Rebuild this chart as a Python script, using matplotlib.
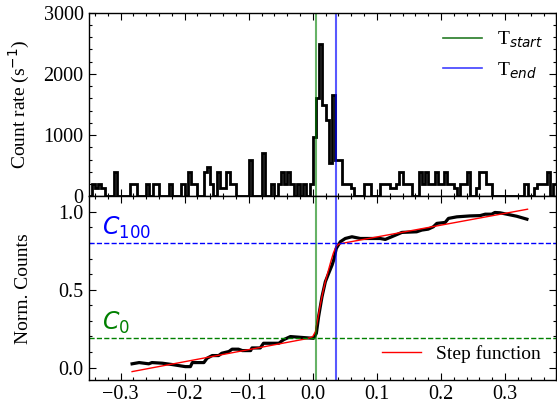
import numpy as np
import matplotlib
matplotlib.use('Agg')
import matplotlib.pyplot as plt
from matplotlib.lines import Line2D
from matplotlib.ticker import MultipleLocator

plt.rcParams['font.family'] = 'serif'
plt.rcParams['font.serif'] = ['Liberation Serif', 'DejaVu Serif']
plt.rcParams['mathtext.fontset'] = 'dejavusans'

# ---- data ----
bin_start = -0.35
bin_width = 0.005
rate = [0, 200, 130, 200, 130, 0, 0, 0, 400, 0,
        0, 0, 0, 200, 200, 0, 0, 0, 200, 0,
        200, 200, 0, 0, 0, 200, 0, 0, 0, 200,
        0, 400, 200, 200, 0, 0, 400, 480, 200, 0,
        400, 130, 130, 400, 200, 200, 0, 0, 0, 0,
        600, 0, 0, 0, 700, 0, 0, 200, 0, 200,
        400, 200, 400, 200, 0, 200, 0, 200, 0, 200,
        970, 1600, 2490, 1490, 1245, 546, 1656, 590, 590, 200,
        200, 200, 130, 0, 0, 0, 200, 200, 0, 0,
        0, 200, 200, 200, 130, 130, 200, 400, 200, 200,
        200, 0, 0, 400, 200, 400, 200, 200, 400, 200,
        200, 400, 200, 200, 130, 0, 200, 200, 400, 0,
        0, 130, 400, 400, 200, 200, 0, 0, 0, 0,
        0, 0, 0, 0, 0, 0, 200, 0, 0, 130,
        200, 200, 200, 400, 0, 200]

cum_t = [-0.282, -0.271, -0.256, -0.251, -0.235, -0.219, -0.199, -0.191, -0.188, -0.170,
         -0.165, -0.157, -0.147, -0.142, -0.131, -0.126, -0.116, -0.110, -0.097, -0.095,
         -0.082, -0.077, -0.053, -0.046, -0.035, -0.022, -0.0065, 0.001, 0.0055, 0.009,
         0.0143, 0.0195, 0.0247, 0.030, 0.0325, 0.0366, 0.0429, 0.0506, 0.061, 0.074,
         0.0845, 0.105, 0.113, 0.123, 0.139, 0.162, 0.170, 0.180, 0.188, 0.1935,
         0.2065, 0.2116, 0.2247, 0.2454, 0.261, 0.269, 0.279, 0.284, 0.292, 0.3026,
         0.318, 0.334]
cum_v = [0.024, 0.032, 0.024, 0.032, 0.028, 0.019, 0.006, 0.006, 0.032, 0.032,
         0.060, 0.077, 0.077, 0.092, 0.103, 0.118, 0.118, 0.109, 0.109, 0.126,
         0.126, 0.156, 0.156, 0.178, 0.199, 0.195, 0.190, 0.188, 0.220, 0.327,
         0.455, 0.551, 0.605, 0.658, 0.690, 0.765, 0.808, 0.829, 0.840, 0.829,
         0.829, 0.829, 0.823, 0.840, 0.868, 0.872, 0.883, 0.889, 0.904, 0.926,
         0.932, 0.958, 0.968, 0.974, 0.976, 0.985, 0.985, 0.996, 0.994, 0.985,
         0.972, 0.953]

step_t = [-0.282, -0.010, -0.004, 0.000, 0.004, 0.008, 0.012, 0.016, 0.020, 0.024,
          0.028, 0.032, 0.036, 0.040, 0.046, 0.335]
step_v = [-0.026, 0.185, 0.192, 0.200, 0.230, 0.320, 0.410, 0.490, 0.560, 0.620,
          0.680, 0.735, 0.775, 0.792, 0.798, 1.017]

t_start = 0.0055
t_end = 0.036
c0 = 0.188
c100 = 0.797

# ---- figure ----
fig = plt.figure(figsize=(5.57, 4.08), dpi=100)
ax1 = fig.add_axes([0.1589, 0.5189, 0.840, 0.450])
ax2 = fig.add_axes([0.1589, 0.0686, 0.840, 0.4503], sharex=ax1)

edges = bin_start + bin_width * np.arange(len(rate) + 1)
ax1.stairs(rate, edges, color='k', lw=2.0, baseline=None)
ax1.axvline(t_start, color='green', alpha=0.6, lw=1.5)
ax1.axvline(t_end, color='blue', alpha=0.65, lw=1.5)
ax1.set_ylim(0, 3000)
ax1.set_xlim(-0.35, 0.38)
ax1.set_ylabel('Count rate (s$^{-1}$)', fontsize=14)
handles = [Line2D([], [], color='darkgreen', lw=1.2, alpha=0.85),
           Line2D([], [], color='blue', lw=1.2, alpha=0.75)]
ax1.legend(handles, ['T$_{start}$', 'T$_{end}$'], loc='upper right', frameon=False,
           fontsize=14, handlelength=2.0, bbox_to_anchor=(1.01, 1.0))

ax2.plot(cum_t, cum_v, color='k', lw=2.3)
ax2.plot(step_t, step_v, color='red', lw=1.0, label='Step function')
ax2.axvline(t_start, color='green', alpha=0.6, lw=1.5)
ax2.axvline(t_end, color='blue', alpha=0.65, lw=1.5)
ax2.axhline(c100, color='blue', ls='--', lw=1.0)
ax2.axhline(c0, color='green', ls='--', lw=1.0)
ax2.text(-0.329, c100 + 0.016, '$C_{100}$', color='blue', fontsize=17, va='bottom')
ax2.text(-0.329, c0 + 0.016, '$C_{0}$', color='green', fontsize=17, va='bottom')
ax2.set_ylim(-0.08, 1.1)
ax2.set_ylabel('Norm. Counts', fontsize=14)
ax2.legend(loc='lower right', frameon=False, fontsize=14, bbox_to_anchor=(1.005, 0.0))

for ax in (ax1, ax2):
    ax.tick_params(which='both', direction='in', top=True, right=True, labelsize=14.5)
    ax.tick_params(which='major', length=5, width=0.8)
    ax.tick_params(which='minor', length=2.5, width=0.8)
    ax.xaxis.set_major_locator(MultipleLocator(0.1))
    ax.xaxis.set_minor_locator(MultipleLocator(0.02))
    for s in ax.spines.values():
        s.set_linewidth(1.0)
    ax.yaxis.set_label_coords(-0.12, 0.5)
ax1.yaxis.set_major_locator(MultipleLocator(1000))
ax1.yaxis.set_minor_locator(MultipleLocator(200))
ax2.yaxis.set_major_locator(MultipleLocator(0.5))
ax2.yaxis.set_minor_locator(MultipleLocator(0.1))
ax1.tick_params(labelbottom=False)

fig.savefig('out.png', dpi=100)
